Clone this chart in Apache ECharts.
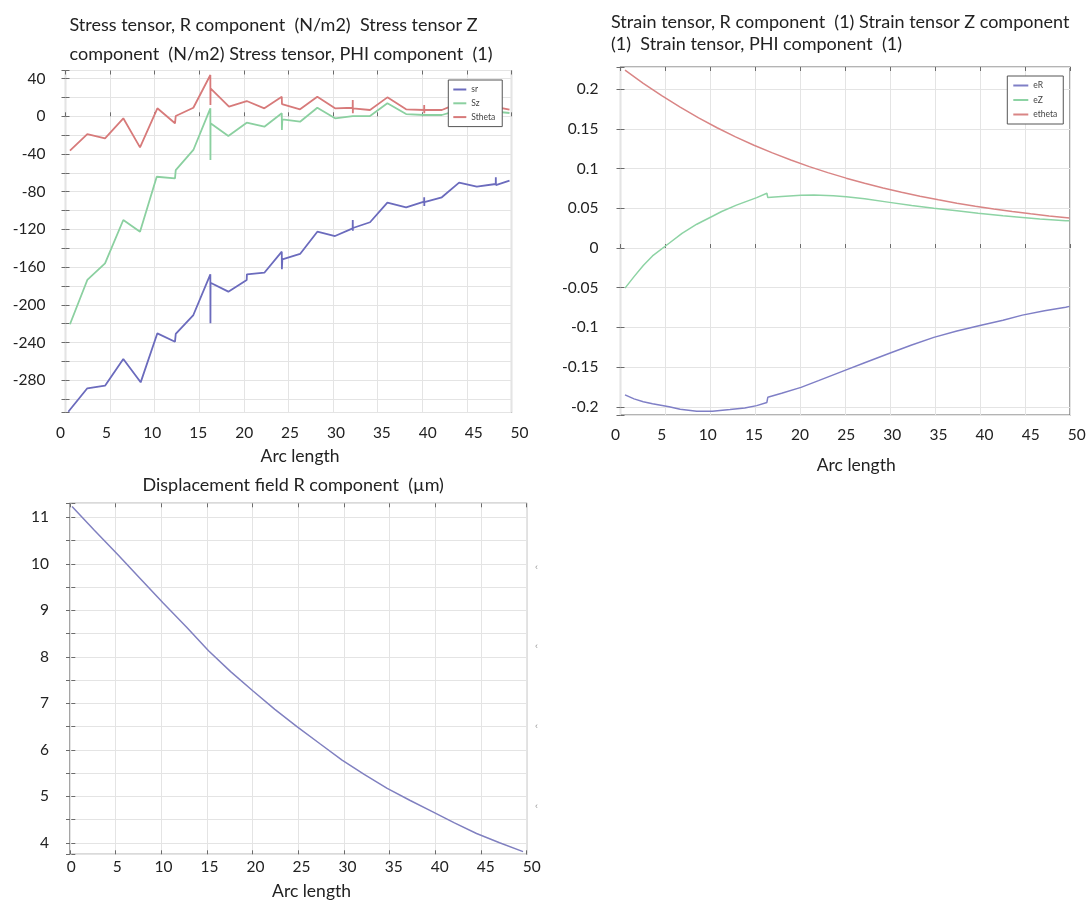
<!DOCTYPE html>
<html><head><meta charset="utf-8">
<script src="https://cdn.jsdelivr.net/npm/echarts@6/dist/echarts.min.js"></script>
<style>html,body{margin:0;padding:0;background:#fff}#c{width:1090px;height:901px}</style>
</head><body><div id="c"></div>
<script>
// ---------------- data ----------------
const xTickLabels = [0, 5, 10, 15, 20, 25, 30, 35, 40, 45, 50];
const xAxisTitle = 'Arc length';

const stressTitle = 'Stress tensor, R component  (N/m2)  Stress tensor Z\ncomponent  (N/m2) Stress tensor, PHI component  (1)';
const strainTitle = 'Strain tensor, R component  (1) Strain tensor Z component\n(1)  Strain tensor, PHI component  (1)';
const dispTitle = 'Displacement field R component  (\u00b5m)';

const stressYTicks = [40, 0, -40, -80, -120, -160, -200, -240, -280];
const strainYTicks = [0.2, 0.15, 0.1, 0.05, 0, -0.05, -0.1, -0.15, -0.2];
const dispYTicks = [11, 10, 9, 8, 7, 6, 5, 4];

const stressNames = ['sr', 'Sz', 'Stheta'];
const strainNames = ['eR', 'eZ', 'etheta'];

// [arc length, value]
const sr = [[0.85,-313.4],[2.92,-288.5],[4.85,-285.8],[6.84,-257.5],[8.73,-282.2],[10.55,-230.2],[12.47,-239.1],[12.55,-230.9],[14.47,-210.8],[16.32,-167.6],[16.33,-219.6],[16.34,-176.5],[18.28,-186],[20.28,-173.6],[20.3,-167.6],[22.2,-165.9],[24.1,-143.6],[24.11,-162.3],[24.16,-151.7],[26.09,-146],[27.97,-122.4],[29.9,-127],[31.82,-118.8],[31.83,-110],[31.84,-121.3],[31.85,-118.5],[33.71,-112.4],[35.6,-91.6],[37.64,-96.5],[39.6,-90.6],[39.61,-86],[39.62,-95.2],[39.63,-91],[41.53,-85.9],[43.41,-70.4],[45.34,-74.7],[47.4,-71.8],[47.41,-64.7],[47.42,-72.9],[47.43,-71.5],[48.9,-68.3]];
const sz = [[1.03,-220.6],[2.92,-173.6],[4.85,-156],[6.84,-110],[8.66,-122.4],[10.48,-64.1],[12.47,-65.8],[12.55,-57],[14.47,-35.7],[16.32,8.5],[16.33,-46.4],[16.34,-7.4],[18.28,-20.9],[20.28,-6.8],[22.2,-11],[24.1,3.2],[24.11,-14.5],[24.16,-3.2],[26.09,-5.7],[27.97,9.1],[29.9,-2.1],[31.83,0.3],[33.71,0.3],[35.6,13.8],[37.64,2.4],[39.6,1.4],[41.53,1.4],[42.43,3.9],[44.4,3],[46.3,6],[48.9,3.5]];
const stheta = [[1.03,-36.5],[2.92,-18.8],[4.85,-23.3],[6.84,-2.1],[8.66,-32.9],[10.55,8.5],[12.47,-7.4],[12.55,0.3],[14.47,9.1],[16.32,43.8],[16.33,12],[16.34,29.7],[18.35,10.2],[20.28,16.2],[22.2,8.5],[24.1,20.8],[24.12,13],[26.09,7.4],[27.97,20.8],[29.9,8.5],[31.82,9.1],[31.83,17.3],[31.84,3.2],[31.85,8.5],[33.71,6.7],[35.6,20.1],[37.64,7.4],[39.6,6.7],[39.61,12],[39.62,3.2],[39.63,6.7],[41.53,6.7],[42.43,10.2],[44.4,9],[46.3,12],[48.9,7]];

const eR = [[1.02,-0.185],[2,-0.19],[3,-0.1935],[4,-0.196],[5.8,-0.2],[7,-0.203],[8.8,-0.2055],[10.5,-0.2055],[12.4,-0.2035],[14,-0.2015],[15.3,-0.1985],[16.4,-0.1945],[16.5,-0.188],[18,-0.183],[20.1,-0.1755],[22,-0.167],[25,-0.1535],[27,-0.1445],[29.7,-0.1325],[32.1,-0.1222],[32.15,-0.1232],[34.5,-0.1125],[37,-0.1045],[39.5,-0.0975],[39.55,-0.0985],[42,-0.091],[44.1,-0.0845],[46.5,-0.079],[48.8,-0.0745],[49.2,-0.0735]];
const eZ = [[1.02,-0.0505],[2,-0.036],[3,-0.022],[4,-0.01],[5.8,0.006],[7.2,0.0185],[8.8,0.03],[10.5,0.04],[11.5,0.046],[13.1,0.054],[15.3,0.0635],[16.4,0.069],[16.5,0.0635],[18,0.065],[20.1,0.0665],[21.5,0.0668],[23.6,0.0658],[25,0.0645],[27,0.062],[29.7,0.0575],[32.1,0.0535],[34.5,0.05],[37,0.047],[39.3,0.0437],[42,0.0405],[44.1,0.0385],[46,0.0367],[48.8,0.0345],[49.2,0.0342]];
const etheta = [[1.02,0.224],[3,0.2075],[5,0.192],[7,0.1775],[9,0.164],[11,0.1515],[13,0.14],[15,0.1295],[17,0.1198],[19,0.1108],[21,0.1025],[23,0.095],[25,0.088],[27,0.0816],[29,0.0757],[31,0.0703],[33,0.0653],[35,0.0607],[37,0.0565],[39,0.0527],[41,0.0492],[43,0.046],[45,0.0431],[47,0.0404],[49.2,0.0378]];

const dispR = [[0.08,11.23],[2.5,10.72],[5.09,10.19],[7.5,9.68],[10,9.15],[12.5,8.64],[14.9,8.13],[17.3,7.68],[19.7,7.27],[22.1,6.87],[24.5,6.5],[27,6.13],[29.4,5.78],[31.8,5.47],[34.3,5.17],[36.8,4.91],[39.2,4.67],[41.6,4.43],[44,4.2],[46.5,4.0],[49.05,3.81]];

// ---------------- styling / layout ----------------
const FONT = 'Lato, "Open Sans", sans-serif';
const AX = '#6b6b6b', GRIDC = '#e4e4e4', TXT = '#222';
const tickStyle = {show: true, inside: true, length: 4, lineStyle: {color: AX, width: 1}};

const option = {animation: false, backgroundColor: '#fff', title: [], grid: [], xAxis: [], yAxis: [], series: [], legend: [], graphic: []};

function inTicks(list, v) { return list.some(t => Math.abs(t - v) < 1e-7); }

function addPanel(cfg) {
  const gi = option.grid.length;
  const [L, T, R, B] = cfg.box;
  option.grid.push({left: L, top: T, width: R - L, height: B - T, show: true, borderColor: AX, borderWidth: 1.2, backgroundColor: 'transparent'});
  option.grid.push({left: cfg.x0px, top: T, width: cfg.x50px - cfg.x0px, height: B - T, show: false});
  const ppu = (cfg.x50px - cfg.x0px) / 50;
  const xMin = (L - cfg.x0px) / ppu, xMax = (R - cfg.x0px) / ppu;
  const xi = option.xAxis.length;
  option.xAxis.push({gridIndex: gi, type: 'value', min: xMin, max: xMax, show: false, position: 'bottom'});
  option.xAxis.push({gridIndex: gi, type: 'value', min: 0, max: 10, interval: 1, position: 'bottom', axisLine: {show: false}, axisLabel: {show: false}, axisTick: tickStyle, splitLine: {show: true, lineStyle: {color: GRIDC, width: 1}}});
  option.xAxis.push({gridIndex: gi, type: 'value', min: 0, max: 10, interval: 1, position: 'top', axisLine: {show: false}, axisLabel: {show: false}, axisTick: tickStyle, splitLine: {show: false}});
  option.xAxis.push({gridIndex: gi + 1, type: 'value', min: 0, max: 50, interval: 5, position: 'bottom',
    axisLine: {show: false}, axisTick: {show: false}, splitLine: {show: false},
    axisLabel: {margin: cfg.xLabelMargin, fontSize: cfg.tickFont, color: TXT, fontFamily: FONT, formatter: v => inTicks(xTickLabels, v) ? String(v) : ''},
    name: xAxisTitle, nameLocation: 'middle', nameGap: cfg.nameGap,
    nameTextStyle: {fontSize: cfg.nameFont, color: TXT, fontFamily: FONT, padding: [0, 0, 0, 20]}});
  const yi = option.yAxis.length;
  option.yAxis.push({gridIndex: gi, type: 'value', min: cfg.yMin, max: cfg.yMax, splitNumber: cfg.split, position: 'left',
    axisLine: {show: false}, axisTick: tickStyle, splitLine: {show: true, lineStyle: {color: GRIDC, width: 1}},
    axisLabel: {margin: cfg.yLabelMargin, fontSize: cfg.tickFont, color: TXT, fontFamily: FONT, formatter: v => inTicks(cfg.yTicks, v) ? String(+v.toFixed(4)) : ''}});
  option.yAxis.push({gridIndex: gi, type: 'value', min: cfg.yMin, max: cfg.yMax, splitNumber: cfg.split, position: 'right',
    axisLine: {show: false}, axisTick: tickStyle, splitLine: {show: false}, axisLabel: {show: false}});
  option.yAxis.push({gridIndex: gi + 1, type: 'value', min: 0, max: 1, show: false});
  cfg.series.forEach(s => option.series.push({type: 'line', name: s.name, data: s.data, xAxisIndex: xi, yAxisIndex: yi,
    symbol: 'none', showSymbol: false, silent: true, lineStyle: {color: s.color, width: cfg.lineWidth}, itemStyle: {color: s.color}, z: 3}));
  if (cfg.legend) {
    option.legend.push(Object.assign({data: cfg.series.map(s => s.name), orient: 'vertical', icon: 'rect', itemHeight: 2,
      backgroundColor: '#fff', borderColor: '#555', borderWidth: 1, selectedMode: false, z: 10,
      textStyle: {fontSize: 8.5, color: '#444', fontFamily: FONT}}, cfg.legend));
  }
}

addPanel({
  box: [65.5, 70.5, 511.5, 412.5], x0px: 60.5, x50px: 519.6,
  yMin: -314.2, yMax: 48.6, split: 18, yTicks: stressYTicks,
  xLabelMargin: 12.5, yLabelMargin: 20, nameGap: 35, tickFont: 15.5, nameFont: 17.5, lineWidth: 1.8,
  series: [{name: stressNames[0], data: sr, color: '#6b6bbd'}, {name: stressNames[1], data: sz, color: '#8bd0a0'}, {name: stressNames[2], data: stheta, color: '#d77a7a'}],
  legend: {left: 448.3, top: 80, itemWidth: 13, itemGap: 4.8, padding: [5, 7, 5, 5]}
});
addPanel({
  box: [620.5, 67, 1070, 415], x0px: 615.6, x50px: 1076.8,
  yMin: -0.2103, yMax: 0.2280, split: 9, yTicks: strainYTicks,
  xLabelMargin: 12, yLabelMargin: 22, nameGap: 41, tickFont: 15.5, nameFont: 17.5, lineWidth: 1.5,
  series: [{name: strainNames[0], data: eR, color: '#7f7fc6'}, {name: strainNames[1], data: eZ, color: '#8dd3a4'}, {name: strainNames[2], data: etheta, color: '#d98585'}],
  legend: {left: 1007.3, top: 76, itemWidth: 15, itemGap: 5.5, padding: [5, 6, 5, 6]}
});
addPanel({
  box: [70, 503.3, 526.6, 854.3], x0px: 71.3, x50px: 531.8,
  yMin: 3.753, yMax: 11.30, split: 15, yTicks: dispYTicks,
  xLabelMargin: 11.5, yLabelMargin: 21, nameGap: 34.5, tickFont: 15.5, nameFont: 17.5, lineWidth: 1.5,
  series: [{name: 'uR', data: dispR, color: '#8080c0'}]
});

const titleStyle = {fontFamily: FONT, fontSize: 18, fontWeight: 'normal', color: TXT};
option.title.push({text: stressTitle, left: 69.5, top: 10.5, padding: 0, textStyle: Object.assign({lineHeight: 29}, titleStyle)});
option.title.push({text: strainTitle, left: 611, top: 10.7, padding: 0, textStyle: Object.assign({lineHeight: 22}, titleStyle)});
option.title.push({text: dispTitle, left: 142.5, top: 474, padding: 0, textStyle: Object.assign({lineHeight: 22}, titleStyle)});

[568, 647, 727, 807].forEach(y => option.graphic.push({type: 'text', left: 535, top: y - 5, style: {text: '\u2039', fontSize: 9, fill: '#999'}}));

const chart = echarts.init(document.getElementById('c'), null, {renderer: 'canvas'});
chart.setOption(option);
</script>
</body></html>
